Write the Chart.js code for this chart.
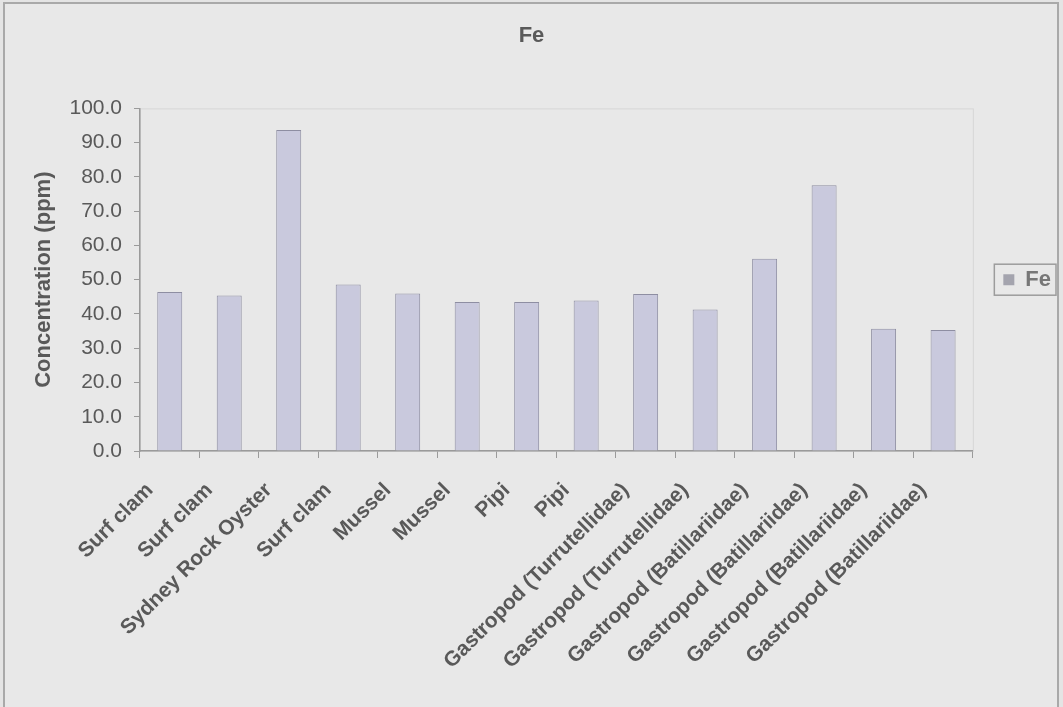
<!DOCTYPE html>
<html>
<head>
<meta charset="utf-8">
<script src="https://cdn.jsdelivr.net/npm/chart.js@4.4.1/dist/chart.umd.min.js"></script>
<style>
  html, body { margin: 0; padding: 0; background: #e4e4e4; }
  #wrap { width: 1063px; height: 707px; position: relative; }
  canvas { display: block; }
</style>
</head>
<body>
<div id="wrap"><canvas id="c" width="1063" height="707"></canvas></div>
<script>
const categories = [
  "Surf clam", "Surf clam", "Sydney Rock Oyster", "Surf clam",
  "Mussel", "Mussel", "Pipi", "Pipi",
  "Gastropod (Turrutellidae)", "Gastropod (Turrutellidae)",
  "Gastropod (Batillariidae)", "Gastropod (Batillariidae)",
  "Gastropod (Batillariidae)", "Gastropod (Batillariidae)"
];
const feValues = [46.4, 45.4, 93.7, 48.6, 46.0, 43.5, 43.5, 43.9, 45.8, 41.3, 56.1, 77.6, 35.7, 35.3];
const seriesName = "Fe";
const chartTitle = "Fe";
const yAxisTitle = "Concentration (ppm)";
const yTickValues = [0, 10, 20, 30, 40, 50, 60, 70, 80, 90, 100];

const FONT = "'Liberation Sans', Arial, sans-serif";
const TEXT = "#595959";
const AXIS = "#9a9a9a";

const framePlugin = {
  id: "frame",
  afterLayout(chart) {
    const lg = chart.legend;
    if (!lg) return;
    const a = chart.chartArea;
    const h = lg.bottom - lg.top;
    const cy = (a.top + a.bottom) / 2;
    lg.top = cy - h / 2;
    lg.bottom = lg.top + h;
    const dx = -2;
    lg.left += dx;
    lg.right += dx;
  },
  beforeDraw(chart) {
    const ctx = chart.ctx;
    ctx.save();
    ctx.fillStyle = "#e4e4e4";
    ctx.fillRect(0, 0, chart.width, chart.height);
    ctx.fillStyle = "#e8e8e8";
    ctx.fillRect(4, 3, 1054, 710);
    ctx.strokeStyle = "#a9a9a9";
    ctx.lineWidth = 2;
    ctx.strokeRect(4, 3, 1054, 720);
    const a = chart.chartArea;
    ctx.strokeStyle = "#d6d6d6";
    ctx.lineWidth = 1;
    ctx.strokeRect(a.left + 0.5, a.top + 0.5, a.right - a.left, a.bottom - a.top);
    ctx.restore();
  },
  afterDraw(chart) {
    const lg = chart.legend;
    if (!lg || !lg.legendHitBoxes || !lg.legendHitBoxes.length) return;
    const hb = lg.legendHitBoxes[0];
    const ctx = chart.ctx;
    ctx.save();
    ctx.strokeStyle = "#9c9c9c";
    ctx.lineWidth = 1.5;
    ctx.strokeRect(hb.left - 9, hb.top - 4.5, hb.width + 14, hb.height + 9);
    ctx.restore();
  }
};

new Chart(document.getElementById("c"), {
  type: "bar",
  data: {
    labels: categories,
    datasets: [{
      label: seriesName,
      data: feValues,
      backgroundColor: "#c9c9dd",
      borderColor: "#8e8ea2",
      borderWidth: 1,
      borderSkipped: "bottom",
      barPercentage: 0.42,
      categoryPercentage: 1.0
    }]
  },
  options: {
    responsive: false,
    animation: false,
    devicePixelRatio: 1,
    layout: { padding: { left: 0, right: 0, top: 0, bottom: 0 } },
    plugins: {
      title: {
        display: true,
        text: chartTitle,
        color: TEXT,
        font: { family: FONT, size: 22, weight: "bold" },
        padding: { top: 23, bottom: 59 }
      },
      legend: {
        display: true,
        position: "right",
        labels: {
          color: "#777777",
          font: { family: FONT, size: 22, weight: "bold" },
          boxWidth: 11,
          boxHeight: 11,
          padding: 32.5,
          generateLabels(chart) {
            return chart.data.datasets.map((ds, i) => ({
              text: ds.label,
              fillStyle: "#a4a4ae",
              strokeStyle: "#a4a4ae",
              lineWidth: 0,
              datasetIndex: i,
              fontColor: "#777777"
            }));
          }
        }
      },
      tooltip: { enabled: false }
    },
    scales: {
      x: {
        grid: {
          display: true,
          drawOnChartArea: false,
          drawTicks: true,
          tickLength: 7,
          color: AXIS,
          offset: true
        },
        border: { display: true, color: AXIS, width: 1.5 },
        ticks: {
          color: TEXT,
          font: { family: FONT, size: 21, weight: "bold" },
          minRotation: 45,
          maxRotation: 45,
          autoSkip: false,
          padding: 20,
          labelOffset: -20
        },
        afterFit(scale) { scale.height = 256; }
      },
      y: {
        min: 0,
        max: 100,
        afterBuildTicks(scale) { scale.ticks = yTickValues.map(v => ({ value: v })); },
        grid: {
          display: true,
          drawOnChartArea: false,
          drawTicks: true,
          tickLength: 6,
          color: AXIS
        },
        border: { display: true, color: AXIS, width: 1.5 },
        ticks: {
          color: TEXT,
          font: { family: FONT, size: 21 },
          padding: 12,
          callback: v => Number(v).toFixed(1)
        },
        title: {
          display: true,
          text: yAxisTitle,
          color: TEXT,
          font: { family: FONT, size: 22, weight: "bold" },
          padding: { top: 31, bottom: 0 }
        },
        afterFit(scale) { scale.width = 140; }
      }
    }
  },
  plugins: [framePlugin]
});
</script>
</body>
</html>
